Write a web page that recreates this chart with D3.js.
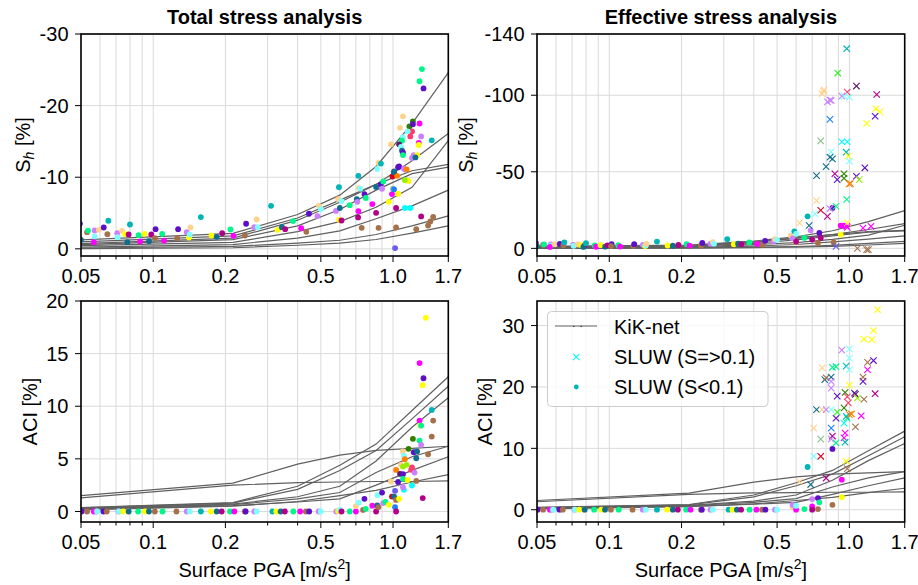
<!DOCTYPE html>
<html><head><meta charset="utf-8">
<script src="https://cdn.jsdelivr.net/npm/d3@7"></script>
<style>body{margin:0;background:#fff} svg{font-family:"Liberation Sans",Arial,Helvetica,sans-serif}</style>
</head><body><svg id="c" width="918" height="585"></svg>
<script>
// ---------- DATA ----------
const pgaMajor = [0.05, 0.1, 0.2, 0.5, 1.0, 1.7];
const pgaMajorLabels = ["0.05", "0.1", "0.2", "0.5", "1.0", "1.7"];
const pgaMinor = [0.06, 0.07, 0.08, 0.09, 0.3, 0.4, 0.6, 0.7, 0.8, 0.9];
const shTotalTicks = [-30, -20, -10, 0];
const shEffTicks = [-140, -100, -50, 0];
const aciTotalTicks = [0, 5, 10, 15, 20];
const aciEffTicks = [0, 10, 20, 30];

const siteColors = ["#5b0fc9", "#00b5b5", "#a5714a", "#ff00ff", "#ffff00", "#ffd28c", "#cc80ff",
  "#80ffff", "#00f58a", "#106e8c", "#b0008a", "#2e8000", "#d00020", "#ff7f00", "#ff3c6e",
  "#99ee00", "#5a1a6a", "#1e80ff", "#6a5aee", "#88c088", "#00ffff", "#33ee22"];

// KiK-net curves (PGA nodes, values)
const kikPga = [0.05, 0.215, 0.4, 0.6, 0.85, 1.2, 1.7];
const kikSh = [
  [-1.26, -2.15, -4.8, -7.5, -11.5, -17.5, -24.6],
  [-0.98, -1.8, -4.3, -6.8, -9.0, -12.3, -16.1],
  [-0.74, -1.5, -4.0, -6.5, -9.0, -10.9, -11.8],
  [-0.6, -1.3, -3.2, -5.5, -8.2, -10.5, -11.4],
  [-0.46, -0.9, -2.4, -3.8, -5.8, -8.6, -15.1],
  [-0.24, -0.6, -1.5, -2.5, -4.2, -6.0, -8.2],
  [-0.12, -0.35, -0.8, -1.2, -2.0, -3.2, -4.6],
  [-0.04, -0.15, -0.5, -0.8, -1.3, -2.2, -3.2]
];
const kikAci = [
  [1.5, 2.7, 4.5, 5.35, 5.8, 6.0, 6.2],
  [1.3, 2.5, 2.75, 2.8, 2.85, 2.85, 2.9],
  [0.38, 0.85, 2.4, 4.4, 6.4, 9.6, 12.8],
  [0.35, 0.8, 2.1, 3.9, 5.8, 8.8, 11.9],
  [0.3, 0.7, 1.4, 2.4, 4.8, 8.0, 10.8],
  [0.25, 0.65, 1.2, 1.8, 3.7, 5.2, 6.2],
  [0.2, 0.55, 0.9, 1.2, 2.5, 3.9, 5.2],
  [0.15, 0.5, 0.95, 1.5, 2.0, 2.8, 3.5]
];

// SLUW low-PGA events [pga, Sh, colour]  (same in both analyses)
const lowSh = [[0.0495,-3.5,0],[0.05,-1.26,9],[0.053,-2.33,2],[0.0535,-2.55,8],[0.057,-2.56,6],[0.057,-1.72,7],
  [0.0566,-0.93,3],[0.0594,-2.66,5],[0.0622,-2.98,0],[0.0644,-2.05,2],[0.065,-3.92,1],[0.0708,-2.19,6],
  [0.0711,-1.63,7],[0.0741,-2.52,5],[0.0765,-2.05,4],[0.079,-2.0,10],[0.078,-0.93,9],[0.080,-3.4,1],
  [0.0869,-1.91,8],[0.0882,-1.03,3],[0.092,-2.1,4],[0.0961,-1.07,9],[0.0982,-2.0,10],[0.1023,-2.75,0],
  [0.1017,-1.5,2],[0.109,-2.1,8],[0.111,-1.16,3],[0.126,-1.5,2],[0.127,-2.75,0],[0.138,-2.33,6],
  [0.141,-1.58,4],[0.142,-2.0,7],[0.143,-2.98,5],[0.158,-4.43,1],[0.175,-1.86,4],[0.184,-1.68,9],
  [0.194,-2.19,10],[0.21,-2.7,8],[0.216,-1.82,3],[0.241,-1.86,2],[0.244,-3.5,0],[0.264,-3.03,6],
  [0.27,-4.1,5],[0.273,-3.03,7],[0.31,-6.0,1],[0.33,-2.66,4],[0.344,-3.03,9],[0.355,-2.75,10],
  [0.383,-3.87,8],[0.414,-2.89,3],[0.435,-2.38,2],[0.446,-4.9,0],[0.484,-4.57,6],[0.49,-6.0,5],[0.5,-5.55,7]];
// [pga, ACI, colour]
const lowAci = [[0.0503,0,0],[0.053,0,2],[0.0566,0,3],[0.058,0,6],[0.0585,0,7],[0.062,0,0],[0.064,0,2],
  [0.0716,0,6],[0.072,0,7],[0.075,0,4],[0.0787,0,5],[0.079,0,9],[0.0865,0,8],[0.0925,0,4],[0.096,0,9],
  [0.1016,0,2],[0.1094,0,8],[0.125,0,2],[0.138,0,6],[0.142,0,7],[0.158,0,1],[0.174,0,4],[0.184,0,9],
  [0.193,0,10],[0.209,0,8],[0.218,0,3],[0.241,0,2],[0.243,0,0],[0.264,0,6],[0.27,0,7],[0.314,0,1],
  [0.326,0,4],[0.34,0,9],[0.354,0,10],[0.384,0,8],[0.41,0,3],[0.433,0,2],[0.447,0,0],[0.49,0,6],[0.5,0,7]];

// Total stress analysis, higher PGA
const totalShHigh = [[0.578,-5.3,6],[0.595,-8.6,1],[0.6,-5.7,9],[0.596,-4.05,4],[0.61,-3.96,10],[0.59,-6.95,5],
  [0.61,-6.67,7],[0.66,-6.1,8],[0.706,-6.95,9],[0.71,-6.57,6],[0.717,-10.2,1],[0.717,-5.27,3],[0.715,-4.38,10],
  [0.72,-8.49,5],[0.73,-8.4,7],[0.74,-2.94,2],[0.76,-7.65,0],[0.77,-7.1,8],[0.82,-6.25,3],[0.85,-5.03,10],
  [0.85,-8.63,9],[0.87,-2.94,2],[0.89,-9.0,0],[0.9,-8.39,6],[0.91,-9.4,8],[0.87,-12.0,5],[0.86,-11.15,7],
  [0.89,-11.9,1],[0.96,-6.57,4],[0.99,-7.65,3],[0.995,-10.1,12],[1.0,-8.39,19],[1.01,-8.3,17],[1.01,-10.7,9],
  [1.04,-10.2,13],[1.03,-5.7,10],[1.03,-2.98,2],[1.02,-0.1,18],[1.05,-7.7,4],[1.05,-11.4,0],[1.13,-11.05,6],
  [1.14,-9.55,15],[1.16,-9.47,4],[1.12,-5.7,20],[1.18,-5.7,20],[1.25,-2.75,2],[1.31,-4.52,10],[1.40,-3.26,2],
  [1.43,-3.82,2],[1.47,-4.47,2],[1.45,-15.15,1],[1.28,-14.8,3],[1.28,-14.5,4],[1.23,-12.8,9],[1.32,-25.1,8],
  [1.29,-23.4,8],[1.34,-22.4,0],[1.1,-18.5,5],[1.07,-16.9,5],[1.21,-17.8,11],[1.17,-17.1,11],[1.21,-17.4,0],
  [1.29,-17.5,3],[1.2,-16.4,14],[1.15,-16.4,7],[1.18,-15.7,14],[1.1,-15.6,7],[1.09,-15.1,8],[1.31,-15.7,6],
  [1.06,-14.6,16],[0.98,-14.6,5],[1.08,-14.25,7],[1.09,-13.7,9],[1.1,-13.46,0],[1.1,-13.1,8],[1.22,-13.1,6],
  [1.26,-13.1,4],[1.2,-12.7,6],[1.24,-12.76,9],[1.06,-11.5,0],[1.11,-11.2,6],[1.14,-11.1,13],[1.01,-10.8,9],
  [1.12,-9.6,15]];
const totalAciHigh = [[0.58,0,6],[0.59,0.05,4],[0.6,0.15,7],[0.61,0,10],[0.66,0,8],[0.7,0,3],[0.7,0.5,5],
  [0.72,0.85,7],[0.75,0.15,2],[0.76,1.2,0],[0.77,0.25,8],[0.82,0.55,3],[0.85,0,10],[0.86,0.57,9],[0.87,0.4,2],
  [0.86,1.55,7],[0.9,1.8,0],[0.91,0.8,6],[0.93,0.9,8],[0.96,0.63,4],[0.98,2.85,5],[0.99,1.42,12],[1.01,1.42,9],
  [1.02,1.96,18],[1.02,0.4,17],[1.03,1.1,2],[1.03,0,10],[1.05,2.8,0],[1.06,1.2,4],[1.03,3.95,13],[1.07,3.58,16],
  [1.08,4.43,5],[1.1,3.54,0],[1.1,5.7,5],[1.11,5.3,7],[1.12,4.97,13],[1.1,4.27,15],[1.1,3.1,8],[1.11,2.06,20],
  [1.1,2.3,6],[1.14,4.43,15],[1.15,3.0,4],[1.16,5.95,11],[1.19,3.96,14],[1.2,2.47,20],[1.2,4.18,14],[1.22,5.63,0],
  [1.21,6.9,11],[1.23,3.7,6],[1.25,2.9,2],[1.25,5.06,9],[1.26,5.7,9],[1.29,6.74,8],[1.29,8.64,3],[1.3,8.16,4],
  [1.31,8.16,8],[1.31,6.33,6],[1.33,1.27,10],[1.29,14.1,3],[1.34,12.66,0],[1.33,12.0,4],[1.37,18.4,4],
  [1.4,5.44,2],[1.45,9.65,1],[1.45,7.12,2],[1.47,8.64,2]];

// Effective stress analysis, higher PGA: dots (S<0.1) and crosses (S=>0.1)
const effShDots = [[0.57,-8.3,5],[0.59,-11.1,1],[0.6,-9.4,7],[0.58,-6.5,6],[0.6,-4.1,4],[0.6,-4.3,10],
  [0.65,-6.8,8],[0.67,-20.9,1],[0.69,-11.8,6],[0.70,-5.7,10],[0.75,-10.1,0],[0.76,-6.8,10],[0.74,-3.5,2],
  [0.85,-26.4,0],[0.86,-3.9,2],[0.92,-14.9,3],[0.95,-14.9,3],[0.92,-9.0,4]];
const effShCross = [[0.975,-130.4,1],[0.894,-114.5,21],[1.07,-106,16],[0.98,-102,14],[1.30,-100.5,10],
  [0.779,-102.7,5],[0.77,-101,5],[0.785,-103.5,5],[0.81,-95.7,6],[0.84,-96.6,6],[0.83,-96.8,6],[0.93,-99.4,6],
  [0.95,-99.4,7],[1.0,-98.8,7],[1.29,-91.2,4],[1.34,-89.2,4],[1.18,-81.6,4],[1.28,-86.3,0],[0.83,-84.2,17],
  [0.76,-70.2,19],[0.93,-69.6,20],[0.98,-69.6,20],[0.84,-63,7],[0.97,-62.8,1],[0.99,-60.2,4],[1.0,-56.9,7],
  [0.83,-59.5,9],[0.85,-58.4,9],[0.8,-53.4,9],[0.73,-47.5,9],[0.87,-48.7,10],[0.89,-44.9,0],[0.95,-48.7,11],
  [0.95,-45.8,11],[1.07,-47.1,0],[1.16,-52.6,0],[1.1,-44.9,15],[1.0,-42.1,13],[1.01,-42.3,13],[0.975,-32,8],
  [0.88,-27.5,8],[0.73,-31.2,5],[0.76,-24.9,12],[0.72,-22.5,7],[0.81,-20.9,10],[0.83,-26,6],[0.62,-16.6,5],
  [0.68,-14.9,9],[0.975,-14.4,3],[0.98,-16.6,4],[0.98,-13.7,3],[1.14,-13.3,3],[1.23,-14.4,3],[0.88,-1.3,18],
  [1.08,0,2],[1.18,0.85,2],[1.2,0.85,2]];
const effAciDots = [[0.58,0.43,5],[0.58,0.8,6],[0.6,0,3],[0.6,0.65,7],[0.67,6.96,1],[0.65,0.1,8],[0.7,1.74,6],
  [0.7,0.54,3],[0.7,0,10],[0.74,1.9,0],[0.75,1.2,8],[0.74,0.1,2],[0.85,9.9,0],[0.85,0.8,2],[0.93,4.9,3],[0.93,2.06,4]];
const effAciCross = [[0.62,4.6,5],[0.69,4.1,9],[0.71,8.7,7],[0.76,8.7,12],[0.71,13.3,5],[0.73,16.3,9],
  [0.76,11.5,19],[0.77,16.3,5],[0.8,16.3,6],[0.77,23.1,5],[0.79,21.2,9],[0.8,21.5,2],[0.84,21.6,9],[0.84,20.9,6],
  [0.84,19.8,6],[0.84,16.3,7],[0.84,13.3,17],[0.85,23.2,8],[0.88,23.3,8],[0.8,5.16,10],[0.85,12.0,10],
  [0.84,11.5,6],[0.88,10.9,8],[0.88,14.9,0],[0.89,18.5,0],[0.89,15.9,21],[0.93,26.0,6],[0.95,16.6,11],
  [0.96,19.1,11],[0.95,14.1,20],[0.95,11.7,3],[0.96,12.5,3],[0.96,11.0,1],[0.97,23.4,1],[0.98,14.9,8],
  [1.0,26.2,7],[1.0,24.7,7],[1.0,22.8,7],[0.98,18.4,14],[0.99,17.4,14],[0.97,7.9,4],[0.98,6.7,2],[1.0,20.3,4],
  [1.0,15.5,13],[1.02,15.6,13],[0.97,15.2,1],[1.05,19.0,0],[1.06,18.8,16],[1.08,18.2,15],[1.06,13.5,2],
  [1.12,15.3,3],[1.14,20.9,0],[1.14,21.6,2],[1.15,18.0,2],[1.15,27.8,4],[1.19,22.8,3],[1.19,24.0,2],
  [1.24,27.7,4],[1.26,24.3,0],[1.26,29.2,4],[1.28,18.9,10],[1.31,32.6,4]];

// ---------- DRAWING ----------
const svg = d3.select("#c");
const FONT = 20;
const kikColor = "#606060";

const panels = [
  {id:"p1", x0:81, x1:448.3, y0:34, y1:256, yDom:[1,-30], yTicks:shTotalTicks, title:"Total stress analysis",
   lines:kikSh, dots:[lowSh, totalShHigh], cross:[], ylab:"sh", ylx:30, xlab:false},
  {id:"p2", x0:537, x1:904.7, y0:34, y1:256, yDom:[5,-140], yTicks:shEffTicks, title:"Effective stress analysis",
   lines:kikSh, dots:[lowSh, effShDots], cross:[effShCross], ylab:"sh", ylx:473, xlab:false},
  {id:"p3", x0:81, x1:448.3, y0:301, y1:522, yDom:[-1,20], yTicks:aciTotalTicks, title:null,
   lines:kikAci, dots:[lowAci, totalAciHigh], cross:[], ylab:"aci", ylx:37, xlab:true},
  {id:"p4", x0:537, x1:904.7, y0:301, y1:522, yDom:[-2,34], yTicks:aciEffTicks, title:null,
   lines:kikAci, dots:[lowAci, effAciDots], cross:[effAciCross], ylab:"aci", ylx:492, xlab:true, legend:true}
];

const defs = svg.append("defs");

panels.forEach(p => {
  const x = d3.scaleLog().domain([0.05, 1.7]).range([p.x0, p.x1]);
  const y = d3.scaleLinear().domain(p.yDom).range([p.y1, p.y0]);
  const g = svg.append("g");

  defs.append("clipPath").attr("id", "clip-" + p.id).append("rect")
    .attr("x", p.x0).attr("y", p.y0).attr("width", p.x1 - p.x0).attr("height", p.y1 - p.y0);

  // grid
  const grid = g.append("g").attr("stroke", "#dadada").attr("stroke-width", 1);
  pgaMajor.concat(pgaMinor).forEach(v => {
    grid.append("line").attr("x1", x(v)).attr("x2", x(v)).attr("y1", p.y0).attr("y2", p.y1);
  });
  p.yTicks.forEach(v => {
    grid.append("line").attr("x1", p.x0).attr("x2", p.x1).attr("y1", y(v)).attr("y2", y(v));
  });

  const plot = g.append("g").attr("clip-path", "url(#clip-" + p.id + ")");
  // KiK-net lines
  const lineGen = d3.line().x((d, i) => x(kikPga[i])).y(d => y(d));
  p.lines.forEach(vals => {
    plot.append("path").attr("d", lineGen(vals)).attr("fill", "none")
      .attr("stroke", kikColor).attr("stroke-width", 1.2);
  });
  // dots
  p.dots.forEach(arr => {
    plot.selectAll(null).data(arr).enter().append("circle")
      .attr("cx", d => x(d[0])).attr("cy", d => y(d[1])).attr("r", 2.9)
      .attr("fill", d => siteColors[d[2]]);
  });
  // crosses
  p.cross.forEach(arr => {
    const s = 3.2;
    plot.selectAll(null).data(arr).enter().append("path")
      .attr("d", d => {
        const cx = x(d[0]), cy = y(d[1]);
        return `M${cx-s},${cy-s}L${cx+s},${cy+s}M${cx-s},${cy+s}L${cx+s},${cy-s}`;
      })
      .attr("stroke", d => siteColors[d[2]]).attr("stroke-width", 1.1).attr("fill", "none");
  });

  // ticks
  const tk = g.append("g").attr("stroke", "#000").attr("stroke-width", 1);
  pgaMajor.forEach(v => tk.append("line").attr("x1", x(v)).attr("x2", x(v)).attr("y1", p.y1).attr("y2", p.y1 + 6));
  pgaMinor.forEach(v => tk.append("line").attr("x1", x(v)).attr("x2", x(v)).attr("y1", p.y1).attr("y2", p.y1 + 3.5));
  p.yTicks.forEach(v => tk.append("line").attr("x1", p.x0 - 6).attr("x2", p.x0).attr("y1", y(v)).attr("y2", y(v)));

  // tick labels
  pgaMajor.forEach((v, i) => {
    g.append("text").attr("x", x(v)).attr("y", p.y1 + 27).attr("text-anchor", "middle")
      .attr("font-size", FONT).attr("fill", "#000").text(pgaMajorLabels[i]);
  });
  p.yTicks.forEach(v => {
    g.append("text").attr("x", p.x0 - 12.5).attr("y", y(v)).attr("dy", "0.36em").attr("text-anchor", "end")
      .attr("font-size", FONT).attr("fill", "#000").text(String(v));
  });

  // spines
  g.append("rect").attr("x", p.x0).attr("y", p.y0).attr("width", p.x1 - p.x0).attr("height", p.y1 - p.y0)
    .attr("fill", "none").attr("stroke", "#000").attr("stroke-width", 1.6);

  // title
  if (p.title) {
    g.append("text").attr("x", (p.x0 + p.x1) / 2).attr("y", 24).attr("text-anchor", "middle")
      .attr("font-size", FONT).attr("font-weight", "bold").text(p.title);
  }
  // y label
  const yc = (p.y0 + p.y1) / 2;
  const yl = g.append("text").attr("transform", `translate(${p.ylx},${yc}) rotate(-90)`)
    .attr("text-anchor", "middle").attr("font-size", FONT);
  if (p.ylab === "sh") {
    yl.append("tspan").text("S");
    yl.append("tspan").attr("font-size", 14).attr("font-style", "italic").attr("dy", 4).text("h");
    yl.append("tspan").attr("dy", -4).text(" [%]");
  } else {
    yl.text("ACI [%]");
  }
  // x label
  if (p.xlab) {
    const xl = g.append("text").attr("x", (p.x0 + p.x1) / 2).attr("y", 577).attr("text-anchor", "middle")
      .attr("font-size", FONT);
    xl.append("tspan").text("Surface PGA [m/s");
    xl.append("tspan").attr("font-size", 14).attr("dy", -8).text("2");
    xl.append("tspan").attr("dy", 8).text("]");
  }

  // legend
  if (p.legend) {
    const lg = g.append("g");
    lg.append("rect").attr("x", 547.5).attr("y", 311.5).attr("width", 220.5).attr("height", 95).attr("rx", 4)
      .attr("fill", "#fff").attr("fill-opacity", 0.8).attr("stroke", "#cccccc").attr("stroke-width", 1);
    lg.append("line").attr("x1", 555).attr("x2", 597).attr("y1", 326).attr("y2", 326)
      .attr("stroke", kikColor).attr("stroke-width", 1.2);
    lg.append("path").attr("d", "M573,326.4h1.5M580.5,326.4h1.5").attr("stroke", "#333").attr("stroke-width", 1);
    const s = 3.2, cx = 576.3, cy = 357;
    lg.append("path").attr("d", `M${cx-s},${cy-s}L${cx+s},${cy+s}M${cx-s},${cy+s}L${cx+s},${cy-s}`)
      .attr("stroke", "#00ffff").attr("stroke-width", 1.1);
    lg.append("circle").attr("cx", 576.3).attr("cy", 387).attr("r", 2.4).attr("fill", "#00b5b5");
    [["KiK-net", 327], ["SLUW (S=>0.1)", 357], ["SLUW (S<0.1)", 387]].forEach(t => {
      lg.append("text").attr("x", 614).attr("y", t[1]).attr("dy", "0.36em").attr("font-size", FONT).text(t[0]);
    });
  }
});
</script>
</body></html>
